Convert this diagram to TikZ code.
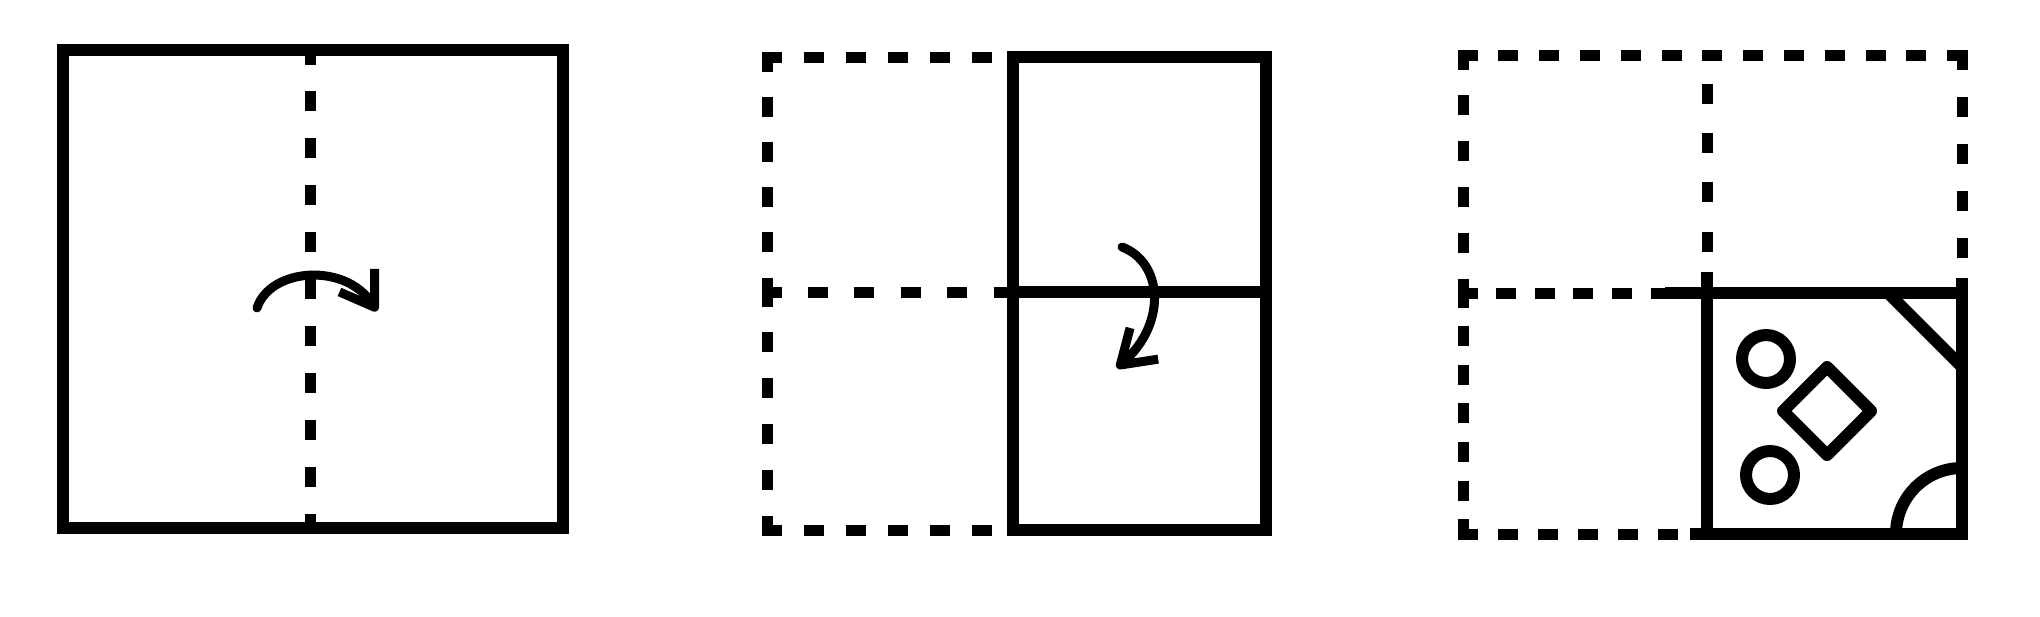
\documentclass[tikz,border=0pt]{standalone}
\usepackage{tikz}
\usetikzlibrary{arrows.meta}

\begin{document}
\begin{tikzpicture}[
  x=0.5pt, y=-0.5pt,
  edgeline/.style={line width=6pt, line join=miter},
  crease/.style={line width=5.5pt, dash pattern=on 10pt off #1, shorten <=-2.75pt, shorten >=-2.75pt},
  shapeline/.style={line width=6pt, line join=round},
  foldarrow/.style={line width=4.5pt, line cap=round, -{Straight Barb[length=16pt,width=21pt,line join=round]}}
]
\useasboundingbox (0,0) rectangle (2040,616);

% step one: whole sheet, vertical crease
\coordinate (a1) at (63,50);   \coordinate (a2) at (563,528);
\coordinate (am1) at (310,50); \coordinate (am2) at (310,528);
\draw[edgeline] (a1) rectangle (a2);
\draw[crease=13.45pt] (am1) -- (am2);
\coordinate (as) at (257,308); \coordinate (ae) at (377,311);
\draw[foldarrow] (as) .. controls (270,268) and (345,262) .. (ae);

% step two: folded in half, horizontal crease
\coordinate (b1) at (1013,57);  \coordinate (b2) at (1266,530);
\coordinate (bl) at (1013,292); \coordinate (br) at (1266,292);
\coordinate (d1) at (767,57);   \coordinate (dm) at (767,292);
\coordinate (d2) at (767,530);
\draw[edgeline] (b1) rectangle (b2);
\draw[edgeline] (bl) -- (br);
\draw[crease=12.6pt] (d1) -- (dm);
\draw[crease=12.9pt] (dm) -- (d2);
\draw[crease=11pt] (d1) -- (986,57);
\draw[crease=13.2pt] (dm) -- (bl);
\draw[crease=11pt] (d2) -- (986,530);
\coordinate (bs) at (1122,247); \coordinate (be) at (1117,368);
\draw[foldarrow] (bs) .. controls (1162,262) and (1168,322) .. (be);

% step three: folded in quarters, corners shaped
\coordinate (c1) at (1707,293); \coordinate (c2) at (1962,534);
\coordinate (e1) at (1463,55);  \coordinate (e2) at (1962,55);
\coordinate (em) at (1463,293); \coordinate (e3) at (1463,534);
\draw[crease=12.9pt] (e1) -- (em);
\draw[crease=9.33pt] (em) -- (e3);
\draw[crease=10.4pt] (e1) -- (e2);
\draw[crease=13.5pt] (e2) -- (1962,252);
\draw[crease=14.7pt] (1707,89) -- (1707,246);
\draw[crease=9.3pt] (em) -- (1665,293);
\draw[crease=10pt] (e3) -- (1672,534);
\draw[edgeline] (c1) rectangle (c2);
\draw[edgeline] (1707,272) -- (c1) -- (1665,293);
\draw[edgeline] (1962,278) -- (1962,293);
\draw[edgeline] (1690,534) -- (c1 |- c2);
% cut corner and rounded corner
\draw[shapeline] (1888,293) -- (1962,367);
\draw[shapeline] (1896,534) arc[start angle=180, end angle=270, radius=66];
% holes
\draw[shapeline] (1766,359) circle[radius=24];
\draw[shapeline] (1770,475) circle[radius=24];
\draw[shapeline] (1827,367) -- (1871,411) -- (1827,455) -- (1783,411) -- cycle;
\end{tikzpicture}
\end{document}
